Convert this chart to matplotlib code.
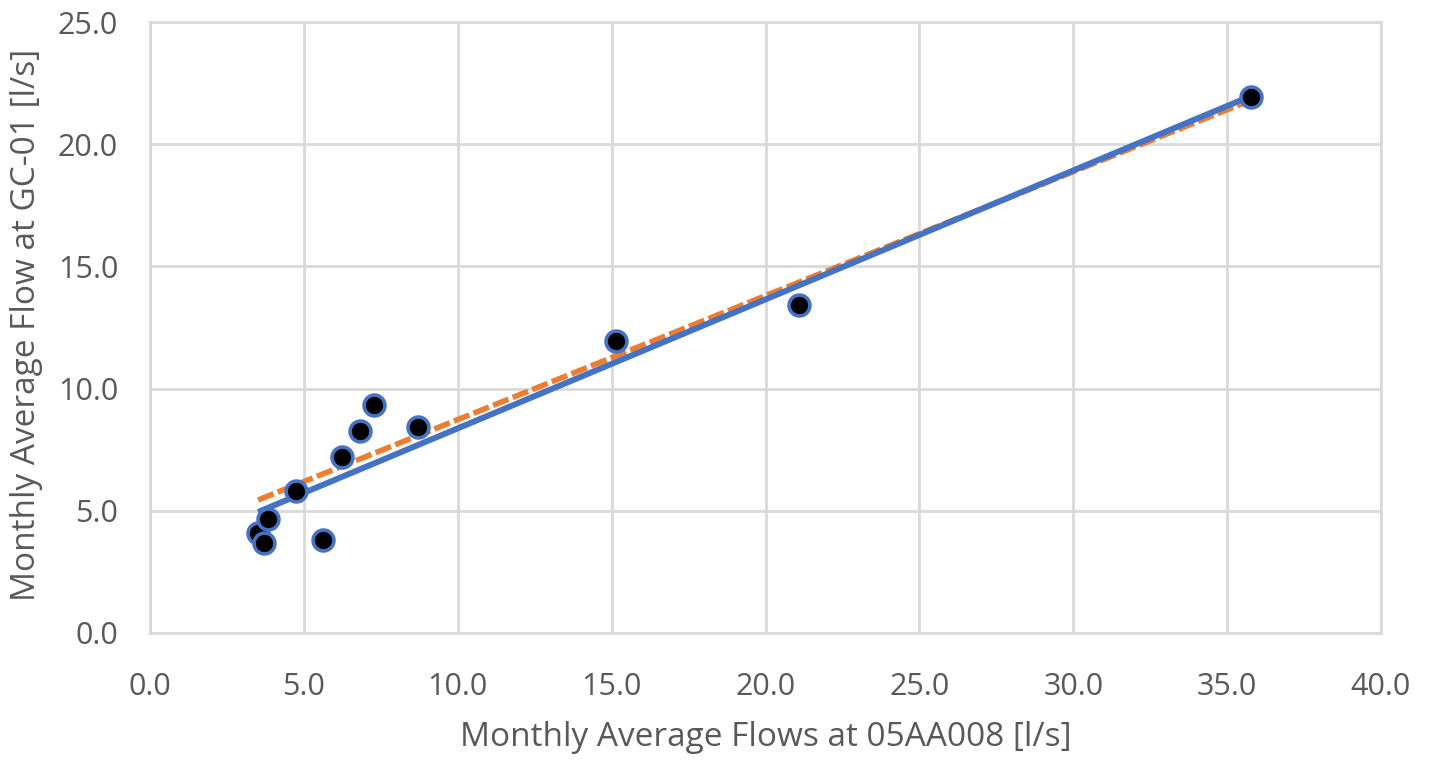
import matplotlib.pyplot as plt
import numpy as np

plt.rcParams['font.family'] = ['Open Sans', 'DejaVu Sans']

# monthly averages
flow_05aa008 = [3.51, 3.70, 3.83, 4.74, 5.62, 6.24, 6.82, 7.28, 8.71, 15.14, 21.09, 35.77]
flow_gc01 = [4.09, 3.68, 4.66, 5.81, 3.80, 7.20, 8.27, 9.33, 8.43, 11.95, 13.42, 21.93]

# trendline end points
trend_x = [3.51, 35.77]
trend_blue = [4.95, 21.97]
trend_orange = [5.44, 21.80]

grey = '#d9d9d9'
txt = '#595959'

fig = plt.figure(figsize=(14.29, 7.62), dpi=100)
ax = fig.add_axes([0.105, 0.1693, 0.8614, 0.8018])

ax.plot(trend_x, trend_orange, color='#ED7D31', lw=4, ls=(0, (3, 0.8)), zorder=2)
ax.plot(trend_x, trend_blue, color='#4472C4', lw=4.3, solid_capstyle='butt', zorder=3)
ax.plot(flow_05aa008, flow_gc01, 'o', ms=15, mfc='black', mec='#4472C4', mew=2.6, zorder=4)

ax.set_xlim(0, 40)
ax.set_ylim(0, 25)
ax.set_xticks(np.arange(0, 41, 5))
ax.set_yticks(np.arange(0, 26, 5))
ax.xaxis.set_major_formatter('{x:.1f}')
ax.yaxis.set_major_formatter('{x:.1f}')
ax.grid(True, color=grey, lw=2)
ax.set_axisbelow(True)
for s in ax.spines.values():
    s.set_color(grey)
    s.set_linewidth(2)
ax.tick_params(axis='x', length=0, labelsize=22, labelcolor=txt, pad=28)
ax.tick_params(axis='y', length=0, labelsize=22, labelcolor=txt, pad=23)

ax.set_xlabel('Monthly Average Flows at 05AA008 [l/s]', fontsize=24, color=txt, labelpad=14)
ax.set_ylabel('Monthly Average Flow at GC-01 [l/s]', fontsize=24, color=txt,
              va='center', ha='center')
ax.yaxis.set_label_coords(-0.1, 0.504)

fig.savefig('out.png', dpi=100)
